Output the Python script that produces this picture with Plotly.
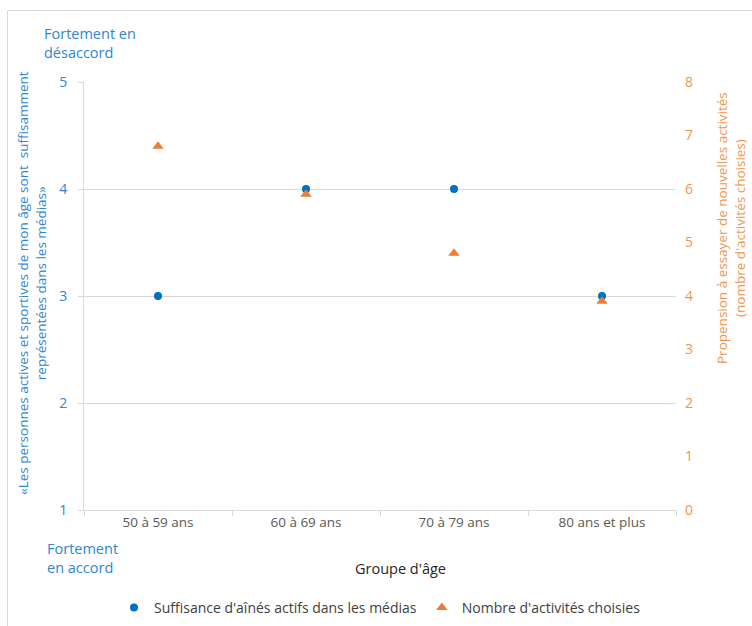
import plotly.graph_objects as go

# Data
age_groups = ["50 à 59 ans", "60 à 69 ans", "70 à 79 ans", "80 ans et plus"]
media_sufficiency = [3, 4, 4, 3]          # left axis, 1–5 agreement scale
activities_chosen = [6.8, 5.9, 4.8, 3.9]  # right axis, number of activities

left_ticks = [1, 2, 3, 4, 5]
right_ticks = [0, 1, 2, 3, 4, 5, 6, 7, 8]

BLUE = "#0070C0"
BLUE_TXT = "#2F86CF"
ORANGE = "#ED7D31"
ORANGE_TXT = "#F0954F"
GRID = "#D9D9D9"
FONT = "Open Sans"

# Plot area in pixels (used to place paper-referenced annotations)
W, H = 752, 626
ML, MR, MT, MB = 84, 76, 82, 116
PW, PH = W - ML - MR, H - MT - MB


def px(x):
    return (x - ML) / PW


def py(y):
    return (H - MB - y) / PH


fig = go.Figure()

fig.add_trace(go.Scatter(
    x=age_groups, y=media_sufficiency, mode="markers",
    name="Suffisance d'aînés actifs dans les médias",
    marker=dict(symbol="circle", size=8, color=BLUE),
    yaxis="y",
))
fig.add_trace(go.Scatter(
    x=age_groups, y=activities_chosen, mode="markers",
    name="Nombre d'activités choisies",
    marker=dict(symbol="triangle-up", size=10, color=ORANGE),
    yaxis="y2",
))

fig.update_layout(
    width=W, height=H,
    margin=dict(l=ML, r=MR, t=MT, b=MB, autoexpand=False),
    paper_bgcolor="white", plot_bgcolor="white",
    font=dict(family=FONT, size=13, color="#595959"),
    showlegend=True,
    legend=dict(
        orientation="h", x=px(114), xanchor="left", y=py(608), yanchor="middle",
        font=dict(family=FONT, size=14, color="#404040"),
        bgcolor="rgba(0,0,0,0)", itemwidth=30,
    ),
    xaxis=dict(
        type="category", range=[-0.5, 3.5],
        showline=True, linecolor=GRID, linewidth=1,
        ticks="outside", tickson="boundaries", ticklen=5, tickcolor=GRID,
        showgrid=False, zeroline=False,
        tickfont=dict(family=FONT, size=13.5, color="#595959"),
    ),
    yaxis=dict(
        range=[1, 5], tickvals=left_ticks,
        showline=True, linecolor=GRID, linewidth=1,
        ticks="outside", ticklen=5, tickcolor=GRID,
        showgrid=True, gridcolor=GRID, zeroline=False,
        tickfont=dict(family=FONT, size=14, color=BLUE_TXT),
        ticklabelstandoff=8,
    ),
    yaxis2=dict(
        range=[0, 8], tickvals=right_ticks, overlaying="y", side="right",
        showline=False, showgrid=False, zeroline=False, ticks="",
        tickfont=dict(family=FONT, size=14, color=ORANGE_TXT),
        ticklabelstandoff=8,
    ),
)

annotations = [
    # left axis title
    dict(text="«Les personnes actives et sportives de mon âge sont  suffisamment<br>"
              "représentées dans les médias»",
         x=px(32), y=py(283), textangle=-90,
         font=dict(family=FONT, size=13.5, color=BLUE_TXT)),
    # right axis title
    dict(text="Propension à essayer de nouvelles activités<br>(nombre d'activités choisies)",
         x=px(731), y=py(228), textangle=-90,
         font=dict(family=FONT, size=13.5, color=ORANGE_TXT)),
    # scale end labels
    dict(text="Fortement en<br>désaccord", x=px(42), y=py(43), xanchor="left", align="left",
         font=dict(family=FONT, size=14.5, color=BLUE_TXT)),
    dict(text="Fortement<br>en accord", x=px(45), y=py(558), xanchor="left", align="left",
         font=dict(family=FONT, size=14.5, color=BLUE_TXT)),
    # x axis title
    dict(text="Groupe d'âge", x=px(400), y=py(568),
         font=dict(family=FONT, size=14.5, color="#262626")),
]
for a in annotations:
    a.setdefault("xanchor", "center")
    a.update(xref="paper", yref="paper", yanchor="middle", showarrow=False)
    fig.add_annotation(**a)

# light chart frame (top and left edges)
fig.add_shape(type="line", xref="paper", yref="paper",
              x0=px(7.5), x1=px(W + 5), y0=py(10.5), y1=py(10.5),
              line=dict(color=GRID, width=1))
fig.add_shape(type="line", xref="paper", yref="paper",
              x0=px(7.5), x1=px(7.5), y0=py(10.5), y1=py(H + 5),
              line=dict(color=GRID, width=1))

fig.write_html("out.html")
